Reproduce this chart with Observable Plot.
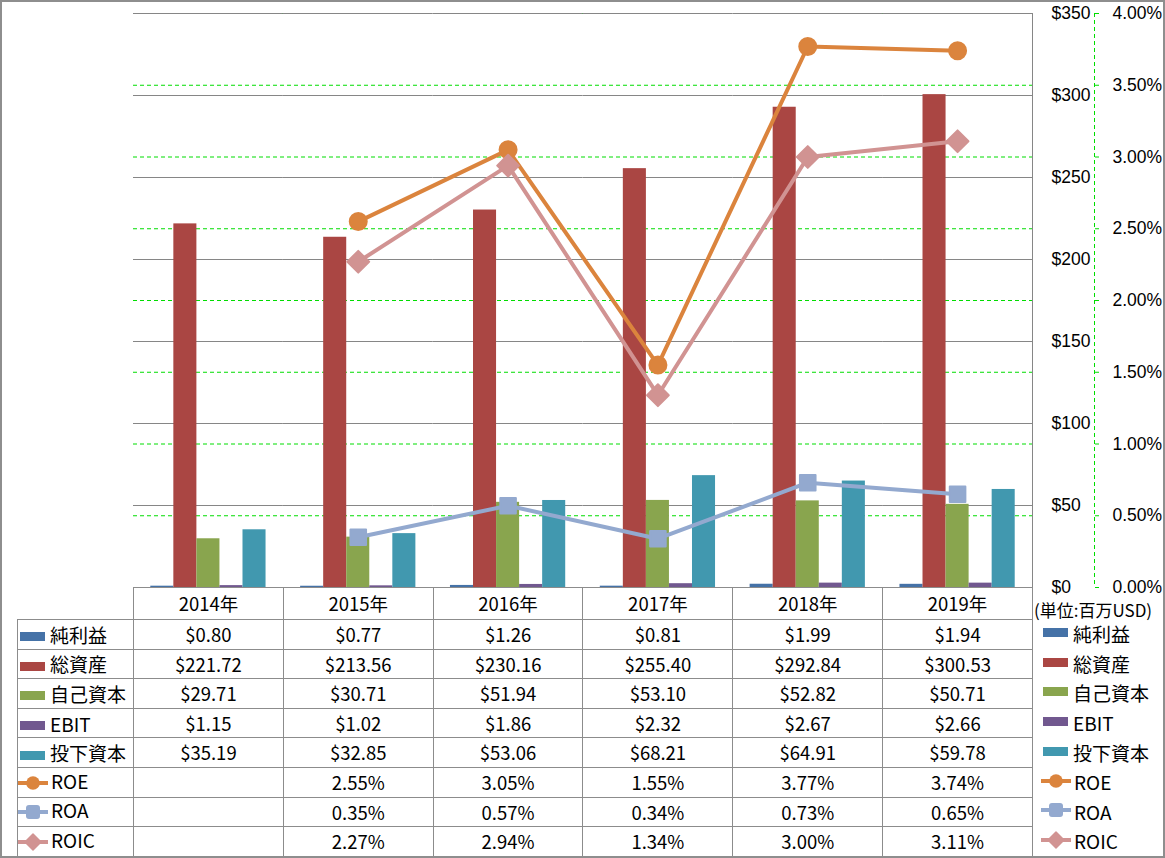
<!DOCTYPE html>
<html>
<head>
<meta charset="utf-8">
<script src="https://cdn.jsdelivr.net/npm/d3@7"></script>
<script src="https://cdn.jsdelivr.net/npm/@observablehq/plot@0.6"></script>
<style>
  html, body { margin: 0; padding: 0; background: #fff; }
  #chart { position: relative; width: 1165px; height: 858px; overflow: hidden; background: #fff;
           font-family: 'Noto Sans CJK JP', 'Noto Sans', sans-serif; color: #000; }
  #chart svg.layer { position: absolute; left: 0; top: 0; }
  .frameborder { position: absolute; left: 0; top: 0; width: 1165px; height: 858px; box-sizing: border-box;
                 border: 2px solid #8e8e8e; pointer-events: none; }
  .plotright { position: absolute; left: 1032px; top: 13px; width: 0; height: 574px; border-left: 1px solid #868686; }
  .pctaxis line, .pctaxis path { stroke: #00dd00; }
  table.dt { position: absolute; left: 17px; top: 587px; border-collapse: collapse; table-layout: fixed;
             font-size: 18.5px; }
  .dt td { border: 1px solid #8c8c8c; text-align: center; vertical-align: middle; padding: 0; white-space: nowrap; line-height: 1; }
  .dt tr { height: 29.6px; }
  .dt tr.head { height: 32px; }
  .dt td.corner { border-top: none; border-left: none; }
  .dt td.leg { text-align: left; padding-left: 2px; font-size: 19px; }
  .sw { display: inline-block; width: 25px; height: 9px; vertical-align: middle; margin-right: 5px; position: relative; top: -1px; }
  .lsw { display: inline-block; vertical-align: middle; margin-right: 2px; margin-left: -2px; position: relative; top: -1px; }
  .rleg { position: absolute; left: 1043px; top: 619px; font-size: 19px; }
  .rleg .row { height: 29.6px; display: flex; align-items: center; white-space: nowrap; }
  .unit { position: absolute; left: 1034px; top: 600px; height: 20px; line-height: 20px; display: flex; align-items: center; font-size: 17px; white-space: nowrap; }
</style>
</head>
<body>
<div id="chart"></div>
<script>
// ---------- data ----------
const years = ["2014年", "2015年", "2016年", "2017年", "2018年", "2019年"];
const seriesNames = ["純利益", "総資産", "自己資本", "EBIT", "投下資本"];
const netIncome       = [0.80, 0.77, 1.26, 0.81, 1.99, 1.94];
const totalAssets     = [221.72, 213.56, 230.16, 255.40, 292.84, 300.53];
const equity          = [29.71, 30.71, 51.94, 53.10, 52.82, 50.71];
const ebit            = [1.15, 1.02, 1.86, 2.32, 2.67, 2.66];
const investedCapital = [35.19, 32.85, 53.06, 68.21, 64.91, 59.78];
const lineNames = ["ROE", "ROA", "ROIC"];
const roe  = [null, 0.0255, 0.0305, 0.0155, 0.0377, 0.0374];
const roa  = [null, 0.0035, 0.0057, 0.0034, 0.0073, 0.0065];
const roic = [null, 0.0227, 0.0294, 0.0134, 0.0300, 0.0311];
const dollarTicks = [0, 50, 100, 150, 200, 250, 300, 350];
const pctTicks = [0, 0.005, 0.01, 0.015, 0.02, 0.025, 0.03, 0.035, 0.04];
const unitLabel = "(単位:百万USD)";

// ---------- styles ----------
const barColors = ["#4572A7", "#AA4643", "#89A54E", "#71588F", "#4198AF"];
const lineColors = ["#DB843D", "#93A9CF", "#D19392"];
const lineSymbols = ["circle", "square", "diamond2"];
const lineR = [8.5, 8.8, 9.8];
const FONT = "'Noto Sans CJK JP', 'Noto Sans', sans-serif";
const AXISFONT = "'Liberation Sans', Arial, sans-serif";
const W = 1165, H = 600;
const M = {marginLeft: 133, marginRight: 133, marginTop: 13, marginBottom: 13};
const baseStyle = {fontFamily: FONT, fontSize: "18.5px", color: "#000", background: "transparent", overflow: "visible"};
const axisStyle = {fontFamily: AXISFONT, fontSize: "17.5px", color: "#000", background: "transparent", overflow: "visible"};

const barValues = [netIncome, totalAssets, equity, ebit, investedCapital];
const lineValues = [roe, roa, roic];
const barData = seriesNames.flatMap((s, k) => years.map((y, i) => ({year: y, series: s, value: barValues[k][i]})));
const lineData = lineNames.flatMap((m, k) => years.map((y, i) => ({year: y, metric: m, value: lineValues[k][i]})))
  .filter(d => d.value != null);

const chart = document.getElementById("chart");
function addLayer(svg) { svg.classList.add("layer"); svg.style.position = "absolute"; svg.style.left = "0px"; svg.style.top = "0px"; chart.appendChild(svg); }

// Layer A: percent gridlines (green dashed)
addLayer(Plot.plot({
  width: W, height: H, ...M, style: baseStyle,
  y: {domain: [0, 0.04], axis: null},
  marks: [Plot.ruleY(pctTicks, {stroke: "#00dd00", strokeDasharray: "4,3", strokeWidth: 1})]
}));

// Layer B: dollar gridlines, bars, dollar axis
addLayer(Plot.plot({
  width: W, height: H, ...M, style: axisStyle,
  fx: {domain: years, padding: 0, axis: null, round: false},
  x: {domain: seriesNames, paddingInner: 0, paddingOuter: 0.75, axis: null, round: false},
  y: {domain: [0, 350], axis: "right", ticks: dollarTicks, tickFormat: d => "$" + d, tickSize: 0, tickPadding: 19, label: null},
  color: {domain: seriesNames, range: barColors},
  marks: [
    Plot.ruleY(dollarTicks, {stroke: "#868686", strokeWidth: 1}),
    Plot.barY(barData, {fx: "year", x: "series", y: "value", fill: "series", inset: 0})
  ]
}));

// Layer C: ratio lines
const lineMarks = lineNames.flatMap((m, k) => {
  const d = lineData.filter(e => e.metric === m);
  return [
    Plot.line(d, {x: "year", y: "value", stroke: lineColors[k], strokeWidth: 4, strokeLinejoin: "round"}),
    Plot.dot(d, {x: "year", y: "value", symbol: lineSymbols[k], r: lineR[k], fill: lineColors[k],
                 stroke: lineColors[k], strokeWidth: 2, strokeLinejoin: "round"})
  ];
});
addLayer(Plot.plot({
  width: W, height: H, ...M, style: baseStyle,
  x: {type: "point", domain: years, padding: 0.5, axis: null, round: false},
  y: {domain: [0, 0.04], axis: null},
  marks: lineMarks
}));

// Layer D: percent axis (right)
addLayer(Plot.plot({
  width: W, height: H, marginLeft: 1093, marginRight: 71, marginTop: 13, marginBottom: 13,
  className: "pctaxis", style: axisStyle,
  x: {domain: [0, 1], axis: null},
  y: {domain: [0, 0.04], axis: "right", ticks: pctTicks, tickFormat: d3.format(".2%"), tickSize: 4, tickPadding: 14, label: null},
  marks: [Plot.ruleX([1], {stroke: "#00dd00", strokeDasharray: "4,3", strokeWidth: 1})]
}));

d3.select(chart).append("div").attr("class", "plotright");

// ---------- data table ----------
const fmtD = d3.format("$.2f");
const fmtP = d3.format(".2%");

function legendSymbol(sel, kind, k) {
  if (kind === "bar") {
    sel.append("span").attr("class", "sw").style("background", barColors[k]);
  } else {
    const svg = sel.append("svg").attr("class", "lsw").attr("width", 31).attr("height", 20);
    const c = lineColors[k];
    svg.append("line").attr("x1", 0).attr("x2", 30).attr("y1", 10).attr("y2", 10).attr("stroke", c).attr("stroke-width", 4);
    if (k === 0) svg.append("circle").attr("cx", 15).attr("cy", 10).attr("r", 6.8).attr("fill", c);
    else if (k === 1) svg.append("rect").attr("x", 8).attr("y", 3).attr("width", 14).attr("height", 14).attr("rx", 3).attr("fill", c);
    else svg.append("path").attr("d", "M15,2 L23,10 L15,18 L7,10 Z").attr("fill", c).attr("stroke", c).attr("stroke-width", 1.5).attr("stroke-linejoin", "round");
  }
}

const table = d3.select(chart).append("table").attr("class", "dt");
const cg = table.append("colgroup");
cg.append("col").style("width", "116px");
years.forEach(() => cg.append("col").style("width", "149.83px"));
const head = table.append("tr").attr("class", "head");
head.append("td").attr("class", "corner");
years.forEach(y => head.append("td").text(y));

const rows = [
  ...seriesNames.map((s, k) => ({name: s, kind: "bar", k, vals: barValues[k].map(v => v == null ? "" : fmtD(v))})),
  ...lineNames.map((m, k) => ({name: m, kind: "line", k, vals: lineValues[k].map(v => v == null ? "" : fmtP(v))}))
];
rows.forEach(r => {
  const tr = table.append("tr");
  const lc = tr.append("td").attr("class", "leg");
  legendSymbol(lc, r.kind, r.k);
  lc.append("span").text(r.name);
  r.vals.forEach(v => tr.append("td").text(v));
});

// right legend
const rl = d3.select(chart).append("div").attr("class", "rleg");
rows.forEach(r => {
  const row = rl.append("div").attr("class", "row");
  legendSymbol(row, r.kind, r.k);
  row.append("span").text(r.name);
});
d3.select(chart).append("div").attr("class", "unit").text(unitLabel);

d3.select(chart).append("div").attr("class", "frameborder");
</script>
</body>
</html>
